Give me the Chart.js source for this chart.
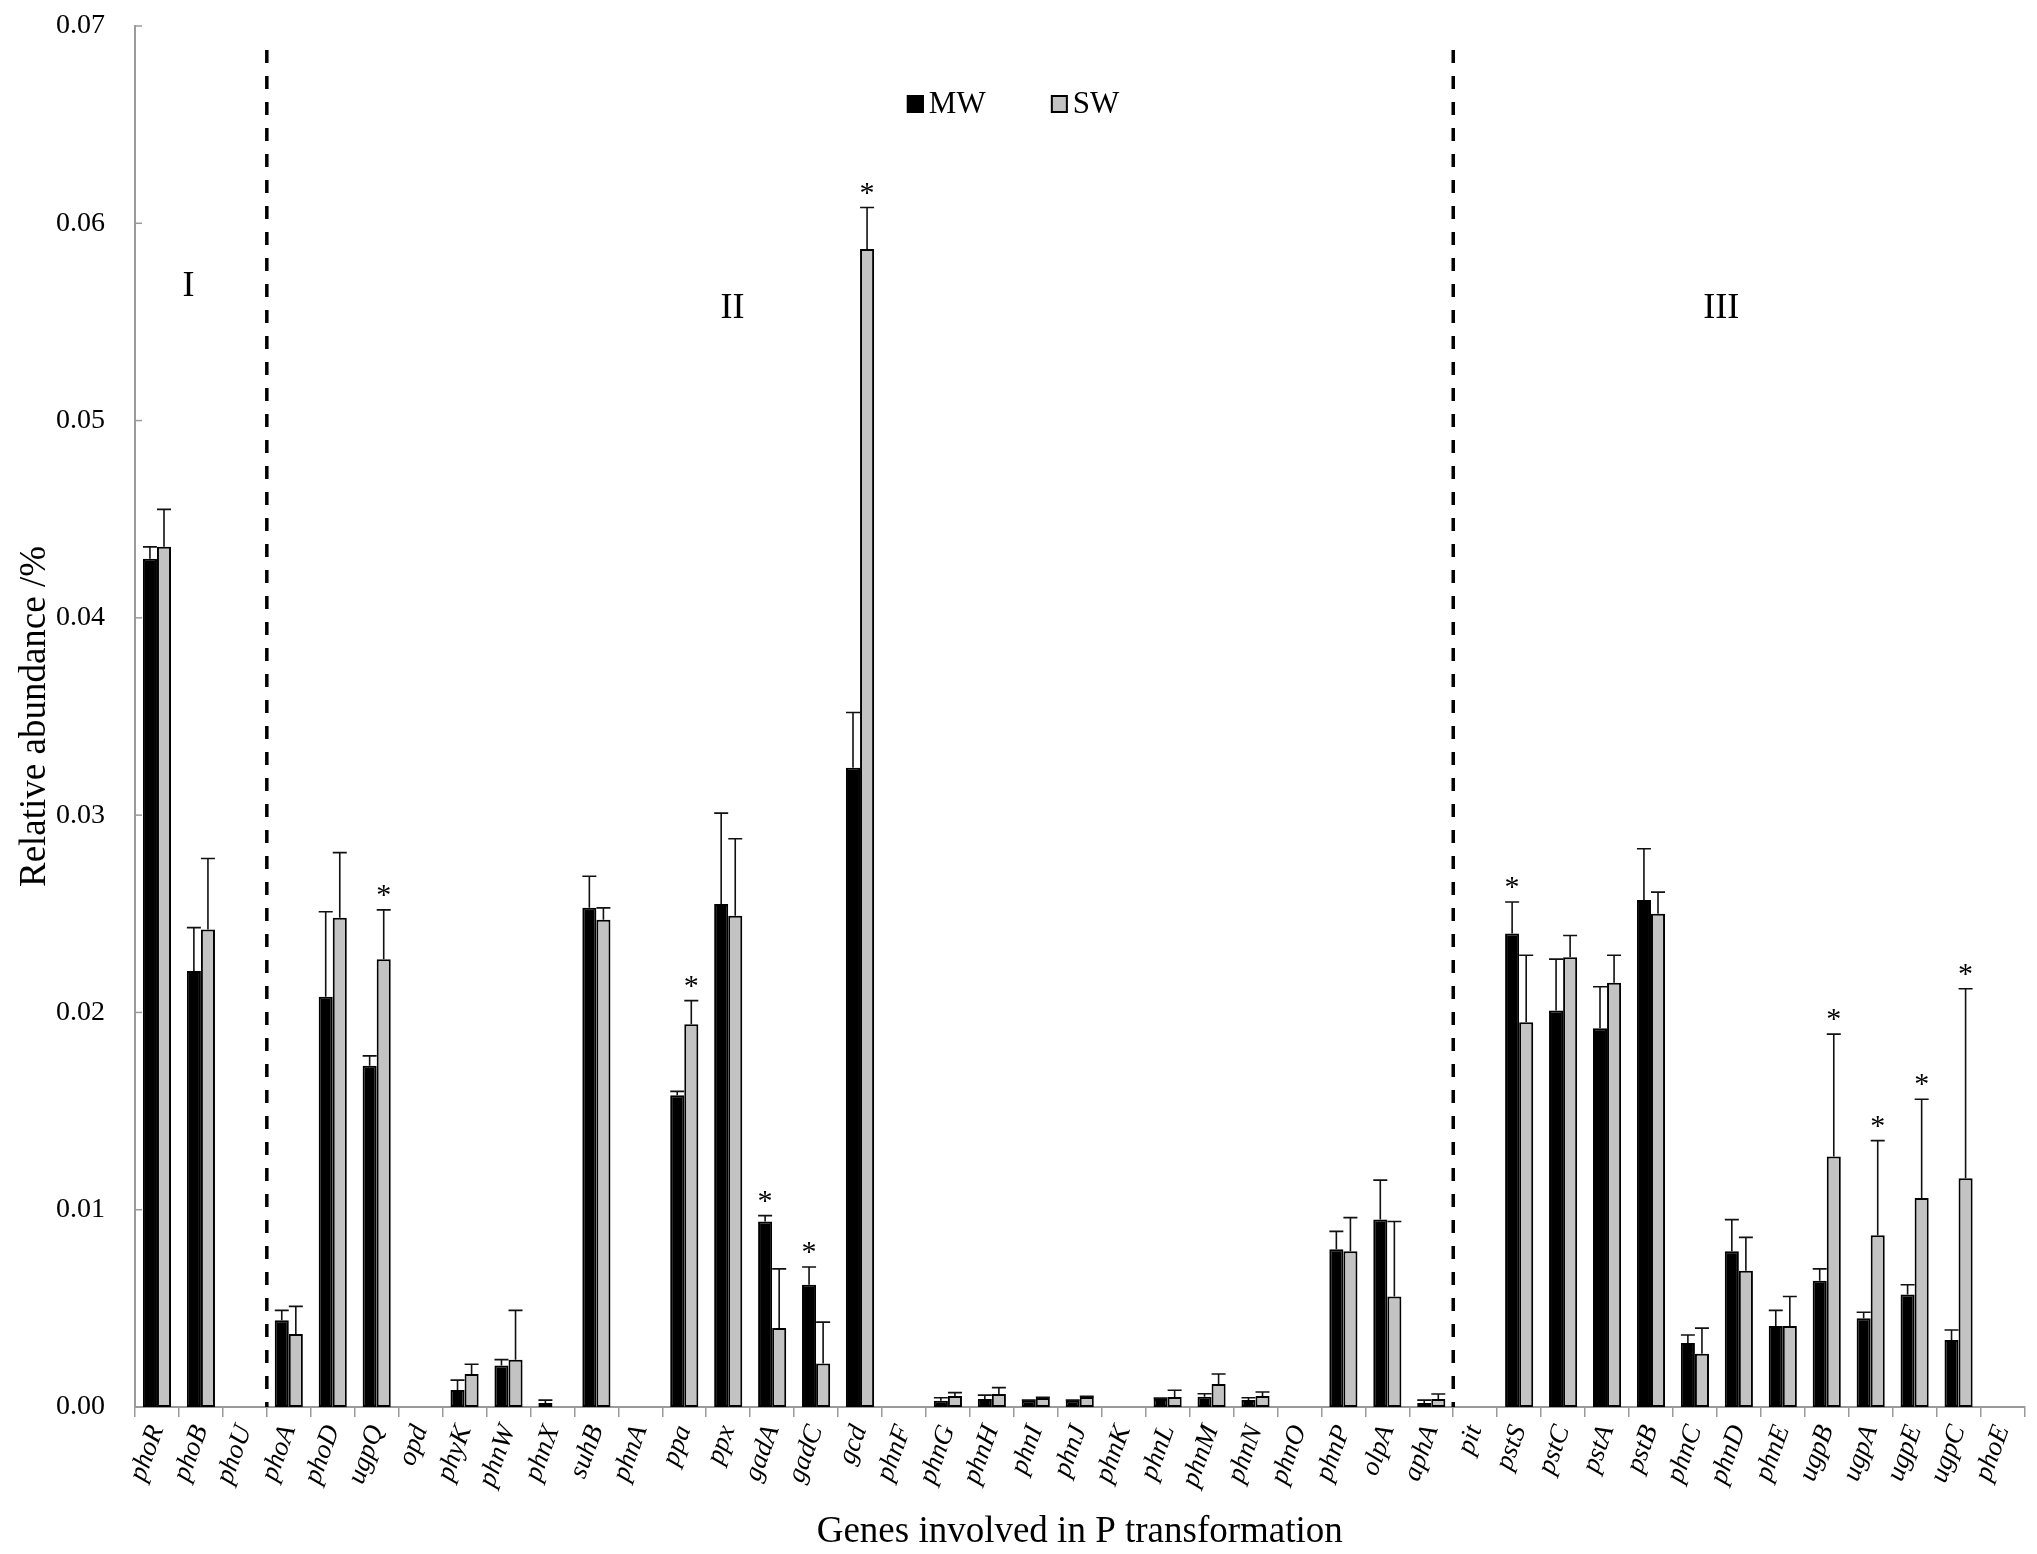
<!DOCTYPE html>
<html>
<head>
<meta charset="utf-8">
<script src="https://cdn.jsdelivr.net/npm/chart.js@4.4.1/dist/chart.umd.min.js"></script>
<style>
html,body{margin:0;padding:0;background:#fff;}
canvas{display:block;}
</style>
</head>
<body>
<canvas id="c" width="2037" height="1554"></canvas>
<script>
// ---- data ----
const categories = ['phoR','phoB','phoU','phoA','phoD','ugpQ','opd','phyK','phnW','phnX','suhB','phnA','ppa','ppx','gadA','gadC','gcd','phnF','phnG','phnH','phnI','phnJ','phnK','phnL','phnM','phnN','phnO','phnP','olpA','aphA','pit','pstS','pstC','pstA','pstB','phnC','phnD','phnE','ugpB','ugpA','ugpE','ugpC','phoE'];

const mwValues = [0.0430,0.0221,0,0.0044,0.0208,0.0173,0,0.00086,0.0021,0.0002,0.0253,0,0.0158,0.0255,0.0094,0.0062,0.0324,0,0.00032,0.0004,0.00032,0.00032,0,0.0004,0.00052,0.00035,0,0.0080,0.0095,0.0002,0,0.0240,0.0201,0.0192,0.0257,0.00325,0.0079,0.0041,0.0064,0.0045,0.0057,0.0034,0];
const mwErrors = [0.0006,0.0022,0,0.0005,0.0043,0.0005,0,0.0005,0.0003,0.00015,0.0016,0,0.0002,0.0046,0.0003,0.0009,0.0028,0,0.00015,0.0002,0.00003,0.00003,0,0.00005,0.00015,0.00012,0,0.0009,0.0020,0.00015,0,0.0016,0.0026,0.0021,0.0026,0.0004,0.0016,0.0008,0.0006,0.0003,0.0005,0.0005,0];

const swValues = [0.0436,0.0242,0,0.0037,0.0248,0.0227,0,0.00167,0.0024,0,0.0247,0,0.0194,0.0249,0.0040,0.0022,0.0587,0,0.00056,0.00066,0.00046,0.00051,0,0.00051,0.00117,0.00056,0,0.0079,0.0056,0.0004,0,0.0195,0.0228,0.0215,0.0250,0.0027,0.0069,0.0041,0.0127,0.0087,0.0106,0.0116,0];
const swErrors = [0.0019,0.0036,0,0.0014,0.0033,0.0025,0,0.0005,0.0025,0,0.0006,0,0.0012,0.0039,0.0030,0.0021,0.0021,0,0.00017,0.00032,0.00003,0.00003,0,0.00034,0.0005,0.0002,0,0.0017,0.0038,0.00026,0,0.0034,0.0011,0.0014,0.0011,0.0013,0.0017,0.0015,0.0062,0.0048,0.0050,0.0096,0];

const significant = ['ugpQ','ppa','gadA','gadC','gcd','pstS','ugpB','ugpA','ugpE','ugpC'];
const seriesNames = ['MW','SW'];
const groupLabels = ['I','II','III'];
const groupBreaks = ['phoA','pit'];   // dashed separators before these genes

const FONT = '"Liberation Serif","Times New Roman",serif';

const overlay = {
  id: 'overlay',
  afterDatasetsDraw(chart) {
    const ctx = chart.ctx, xs = chart.scales.x, ys = chart.scales.y, area = chart.chartArea;
    ctx.save();
    // error bars (upper only)
    const errs = [mwErrors, swErrors];
    const tops = categories.map(() => ({y: Infinity, x: 0}));
    ctx.strokeStyle = '#111';
    ctx.lineWidth = 1.6;
    chart.data.datasets.forEach((ds, di) => {
      const meta = chart.getDatasetMeta(di);
      meta.data.forEach((bar, i) => {
        const v = ds.data[i], e = errs[di][i];
        if (!v) return;
        const yt = ys.getPixelForValue(v + e);
        if (e > 0) {
          ctx.beginPath();
          ctx.moveTo(bar.x, bar.y);
          ctx.lineTo(bar.x, yt);
          ctx.moveTo(bar.x - 7, yt);
          ctx.lineTo(bar.x + 7, yt);
          ctx.stroke();
        }
        if (yt < tops[i].y) tops[i] = {y: yt, x: bar.x};
      });
    });
    // significance asterisks
    ctx.fillStyle = '#000';
    ctx.font = '30px ' + FONT;
    ctx.textAlign = 'center';
    ctx.textBaseline = 'alphabetic';
    significant.forEach(name => {
      const i = categories.indexOf(name);
      ctx.fillText('*', tops[i].x, tops[i].y - 6);
    });
    // dashed group separators
    ctx.strokeStyle = '#000';
    ctx.lineWidth = 3.5;
    ctx.setLineDash([13, 13]);
    groupBreaks.forEach(name => {
      const i = categories.indexOf(name);
      const px = (xs.getPixelForValue(i - 1) + xs.getPixelForValue(i)) / 2;
      ctx.beginPath();
      ctx.moveTo(px, area.top + 24);
      ctx.lineTo(px, area.bottom);
      ctx.stroke();
    });
    ctx.setLineDash([]);
    // group labels
    ctx.font = '36px ' + FONT;
    ctx.textBaseline = 'middle';
    const gx = [0.72, 13.1, 35.6];
    const gy = [0.0568, 0.0557, 0.0557];
    groupLabels.forEach((g, k) => {
      ctx.fillText(g, xs.getPixelForValue(gx[k]), ys.getPixelForValue(gy[k]));
    });
    // legend
    const lx = area.left + (area.right - area.left) * 0.4085;
    const ly = area.top + 78;
    const colors = chart.data.datasets.map(d => d.backgroundColor);
    const offsets = [0, 144];
    ctx.font = '31px ' + FONT;
    ctx.textAlign = 'left';
    seriesNames.forEach((n, k) => {
      const bx = lx + offsets[k];
      ctx.fillStyle = colors[k];
      ctx.fillRect(bx, ly - 9, 17, 18);
      ctx.strokeStyle = '#000';
      ctx.lineWidth = 2;
      ctx.strokeRect(bx + 1, ly - 8, 15, 16);
      ctx.fillStyle = '#000';
      ctx.fillText(n, bx + 22, ly + 1);
    });
    // inward y ticks
    ctx.strokeStyle = '#9a9a9a';
    ctx.lineWidth = 1.5;
    ys.ticks.forEach(t => {
      const py = ys.getPixelForValue(t.value);
      ctx.beginPath();
      ctx.moveTo(area.left, py);
      ctx.lineTo(area.left + 7, py);
      ctx.stroke();
    });
    ctx.restore();
  }
};

const whiteBg = {
  id: 'whiteBg',
  beforeDraw(chart) {
    const c = chart.ctx;
    c.save();
    c.fillStyle = '#fff';
    c.fillRect(0, 0, chart.width, chart.height);
    c.restore();
  }
};

new Chart(document.getElementById('c'), {
  type: 'bar',
  data: {
    labels: categories,
    datasets: [
      {label: seriesNames[0], data: mwValues, backgroundColor: '#000', borderColor: '#000',
       borderWidth: c => (c.raw > 0 ? 2 : 0), borderSkipped: false},
      {label: seriesNames[1], data: swValues, backgroundColor: '#c3c3c3', borderColor: '#000',
       borderWidth: c => (c.raw > 0 ? 2 : 0), borderSkipped: false}
    ]
  },
  options: {
    responsive: false,
    animation: false,
    devicePixelRatio: 1,
    categoryPercentage: 0.64,
    barPercentage: 1.0,
    layout: {padding: {left: 0, right: 4, top: 26, bottom: 0}},
    plugins: {legend: {display: false}, tooltip: {enabled: false}},
    scales: {
      x: {
        grid: {display: true, drawOnChartArea: false, drawTicks: true, tickLength: 10, color: '#9a9a9a', lineWidth: 1.5, offset: true},
        border: {display: true, color: '#9a9a9a', width: 2},
        ticks: {autoSkip: false, minRotation: 70, maxRotation: 70, color: '#000', padding: 4,
                font: {family: FONT, size: 27, style: 'italic'}},
        title: {display: true, text: 'Genes involved in P transformation', color: '#000',
                font: {family: FONT, size: 37}, padding: {top: 0, bottom: 0}},
        afterFit: s => { s.height = 147; }
      },
      y: {
        min: 0, max: 0.07,
        grid: {display: false, drawTicks: true, tickLength: 28},
        border: {display: true, color: '#9a9a9a', width: 2},
        ticks: {stepSize: 0.01, color: '#000', padding: 2, callback: v => Number(v).toFixed(2),
                font: {family: FONT, size: 28}},
        title: {display: true, text: 'Relative abundance /%', color: '#000',
                font: {family: FONT, size: 37}, padding: {top: 13, bottom: 0}},
        afterFit: s => { s.width = 135; }
      }
    }
  },
  plugins: [whiteBg, overlay]
});
</script>
</body>
</html>
